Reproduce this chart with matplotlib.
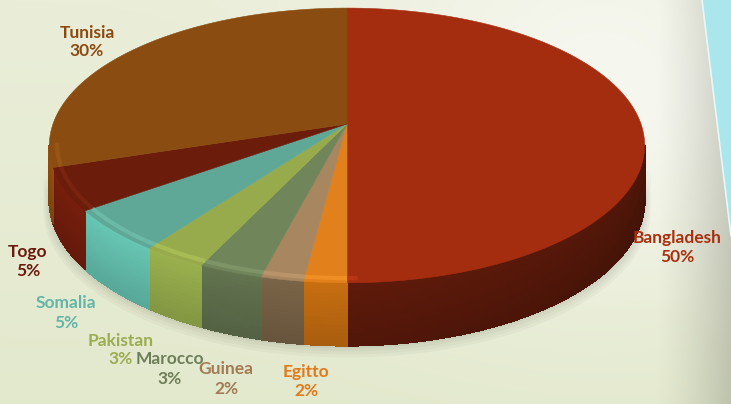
import numpy as np
import matplotlib.pyplot as plt
from matplotlib.collections import PolyCollection
from matplotlib.colors import to_rgb

# data (clockwise from 12 o'clock)
countries = ["Bangladesh", "Egitto", "Guinea", "Marocco", "Pakistan", "Somalia", "Togo", "Tunisia"]
shares = [50, 2, 2, 3, 3, 5, 5, 30]

# colours
top_colors = ["#a52d0f", "#e2801b", "#a8865f", "#71855b", "#98ab4c", "#5fa897", "#6c1c0b", "#8a4c10"]
side_colors = ["#5a190a", "#bc6810", "#735e43", "#5c6c4a", "#90a549", "#60b8a7", "#6e1c0c", "#8a4a10"]
label_colors = ["#a8300f", "#e07a1c", "#a27b55", "#6d7e58", "#9aad52", "#63b5a8", "#6b1b0e", "#8a4b12"]
label_xy = [(677, 247), (306, 382), (226, 379), (170, 369), (121, 350), (66, 313), (28, 262), (87, 42)]

# pie geometry in pixels (perspective ellipse)
CX, Y0 = 347, 124
A, B, K = 294, 134, 0.156
H = 53


def rim(theta, drop=0.0, r=1.0):
    t = np.radians(theta)
    u, v = r * np.sin(t), -r * np.cos(t)
    s = 1.0 / (1.0 - K * v)
    return CX + A * u * s, Y0 + (B * v + drop) * s


fig = plt.figure(figsize=(7.31, 4.04), dpi=100)
ax = fig.add_axes([0, 0, 1, 1])
ax.set_xlim(0, 731)
ax.set_ylim(404, 0)
ax.axis("off")

# background
W, Hh = 731, 404
xx, yy = np.meshgrid(np.arange(W), np.arange(Hh))
c_top = np.array(to_rgb("#eaeed9"))
c_bot = np.array(to_rgb("#e3e9cd"))
c_hi = np.array(to_rgb("#f6f7ef"))
bg = c_top + (c_bot - c_top) * (yy / Hh)[..., None]
glow = np.exp(-(((xx - 600) / 230.0) ** 2 + ((yy - 90) / 200.0) ** 2))
bg = bg + (c_hi - bg) * glow[..., None]
shade = np.clip((xx - 655) / 76.0, 0, 1) ** 1.3
bg = bg * (1 - 0.17 * shade[..., None])
ax.imshow(bg, extent=[0, W, Hh, 0], zorder=0, aspect="auto")
ax.fill([702, 731, 731], [0, 0, 236], color="#abe6ec", zorder=1)
ax.plot([702, 731], [0, 236], color="#e8f8f8", lw=1.2, zorder=1)

# soft shadow under the pie
ts = np.linspace(99, 261, 100)
for i, al in enumerate([0.05, 0.05, 0.06, 0.07]):
    sx, sy = rim(ts, H + 10 - 2.5 * i)
    sx = CX + (sx - CX) * (1.02 - 0.005 * i)
    ax.fill(np.r_[sx, sx[::-1]], np.r_[sy, sy[::-1] - 40], color="#6f7260", alpha=al, lw=0, zorder=2)

# slice angles
edges = np.r_[0, np.cumsum(shares)] / np.sum(shares) * 360.0
lo_vis, hi_vis = np.degrees(np.arccos(-K)), 360 - np.degrees(np.arccos(-K))

# side walls
polys, fcols = [], []
layers = 16
for i in range(len(shares)):
    t1, t2 = max(edges[i], lo_vis), min(edges[i + 1], hi_vis)
    if t2 <= t1:
        continue
    n = max(2, int((t2 - t1) * 2))
    ts = np.linspace(t1, t2, n + 1)
    base = np.array(to_rgb(side_colors[i]))
    for j in range(n):
        ang = 0.5 * (ts[j] + ts[j + 1])
        f_ang = np.interp(ang, [99, 180, 261], [0.8, 1.0, 1.03])
        for L in range(layers):
            d0, d1 = H * L / layers, H * (L + 1) / layers
            xa, ya = rim(ts[j:j + 2], d0)
            xb, yb = rim(ts[j:j + 2], d1)
            polys.append(np.c_[np.r_[xa, xb[::-1]], np.r_[ya, yb[::-1]]])
            f_v = 1.06 - 0.16 * (L + 0.5) / layers
            fcols.append(np.clip(base * f_ang * f_v, 0, 1))
ax.add_collection(PolyCollection(polys, facecolors=fcols, edgecolors=fcols, linewidths=0.8,
                                 antialiaseds=False, zorder=3))

# top faces
for i in range(len(shares)):
    ts = np.linspace(edges[i], edges[i + 1], max(3, int(shares[i] * 8)))
    x, y = rim(ts)
    ax.fill(np.r_[CX, x], np.r_[Y0, y], color=top_colors[i], lw=0.4, ec=top_colors[i], zorder=4)
    # bevel highlight along the front rim
    tf = ts[(ts > 178) & (ts < 262)]
    if len(tf) > 1:
        bx, by = rim(tf, r=0.975)
        c = np.clip(np.array(to_rgb(top_colors[i])) * 1.15 + 0.05, 0, 1)
        ax.plot(bx, by, color=c, lw=3, alpha=0.45, solid_capstyle="butt", zorder=5)

# labels (name above, percentage below)
for name, val, col, (lx, ly) in zip(countries, shares, label_colors, label_xy):
    ax.text(lx, ly - 9.5, name, color=col, fontsize=12.5, fontweight="bold",
            family="Lato", ha="center", va="center", zorder=6)
    ax.text(lx, ly + 9.5, f"{val}%", color=col, fontsize=12.5, fontweight="bold",
            family="Lato", ha="center", va="center", zorder=6)

fig.savefig("out.png", dpi=100)
